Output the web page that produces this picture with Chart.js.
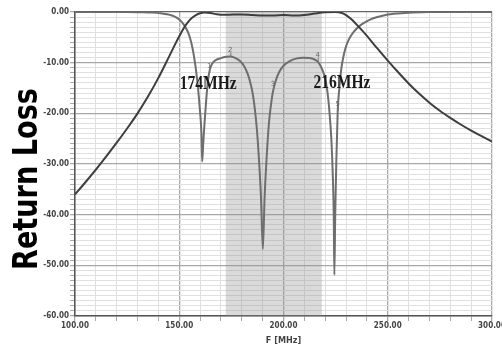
<!DOCTYPE html>
<html><head><meta charset="utf-8">
<script src="https://cdn.jsdelivr.net/npm/chart.js@4/dist/chart.umd.min.js"></script>
<style>html,body{margin:0;padding:0;background:#fff}#wrap{width:502px;height:347px}</style>
</head><body><div id="wrap"><canvas id="c" width="502" height="347"></canvas></div>
<script>
// ---- data ----
const s21Freq = [100,105,110,115,120,125,130,135,140,145,148,150,152,154,156,158,160,162,165,168,172,176,180,185,190,195,200,205,210,215,220,225,228,230,233,236,240,245,250,255,260,265,270,275,280,285,290,295,300];
const s21Db = [-36.0,-33.6,-31.1,-28.5,-25.8,-23.0,-20.0,-16.7,-13.0,-8.9,-6.4,-4.8,-3.3,-2.1,-1.2,-0.6,-0.25,-0.1,-0.2,-0.45,-0.55,-0.5,-0.5,-0.6,-0.7,-0.7,-0.6,-0.7,-0.6,-0.3,-0.05,0,-0.2,-0.6,-1.6,-2.9,-4.7,-7.2,-9.6,-11.9,-14.1,-16.1,-17.9,-19.5,-20.9,-22.2,-23.4,-24.5,-25.6];
const s11Freq = [100,125,132,137,141,144,146.5,148.5,150,152,154,155,156.3,157.4,158.2,159,160,160.6,161,161.5,162.2,163,163.8,164.6,165.8,167.5,170,172.5,174.5,176.5,179,181,183,184,185,186,187.2,188.3,189.2,190.1,190.9,191.8,193,194,195,196.5,198,200,203,206,209.5,212.5,214.5,216.4,218,219.6,221,222,223,223.7,224.1,224.4,224.8,225.3,226,226.8,227.8,229,230.5,232.5,235,238,241,245,249,255,262,270,300];
const s11Db = [0,0,-0.05,-0.12,-0.25,-0.45,-0.7,-1.05,-1.5,-2.4,-3.8,-4.9,-7.0,-9.6,-12.0,-15.0,-19.8,-23.6,-29.5,-26.0,-21.5,-17.0,-13.5,-11.5,-10.2,-9.5,-9.1,-8.85,-8.8,-9.0,-9.6,-10.6,-12.4,-13.8,-15.6,-18.3,-23.0,-29.5,-36.5,-46.8,-37,-29.5,-22,-18.3,-15.6,-13.3,-11.8,-10.6,-9.7,-9.2,-9.05,-9.1,-9.3,-9.8,-10.8,-12.6,-15.5,-19.5,-25.5,-33,-40,-51.9,-40,-30,-19.5,-15,-11,-8.3,-6.2,-4.6,-3.3,-2.3,-1.6,-1.0,-0.6,-0.3,-0.1,0,0];
const xTickValues = [100,150,200,250,300];
const yTickValues = [0,-10,-20,-30,-40,-50,-60];
const passBandMHz = [172.3, 218.4];
const bandLabels = ['174MHz','216MHz'];
const markerText = ['1','2','3','4','5'];
const markerFreq = [164.4,174.5,195.0,216.4,226.0];
const markerDb = [-12.0,-8.8,-15.6,-9.8,-19.5];
const yTitle = 'Return Loss';
const xTitle = 'F [MHz]';

// ---- annotation placement (not data) ----
const bandLabelPos = [{x:150.2,y:-15.2},{x:214.4,y:-15.0}];

const toXY = (xs, ys) => xs.map((x,i)=>({x:x, y:ys[i]}));

const narrow = "'Liberation Sans Narrow','DejaVu Sans Condensed','Liberation Sans',sans-serif";

const decor = {
  id:'decor',
  beforeDatasetsDraw(chart){
    const {ctx, chartArea:a, scales:{x}} = chart;
    const x0 = x.getPixelForValue(passBandMHz[0]), x1 = x.getPixelForValue(passBandMHz[1]);
    ctx.save();
    ctx.fillStyle = 'rgba(140,140,140,0.32)';
    ctx.fillRect(x0, a.top, x1-x0, a.bottom-a.top);
    ctx.restore();
  },
  afterDatasetsDraw(chart){
    const {ctx, scales:{x,y}} = chart;
    ctx.save();
    ctx.fillStyle = '#666'; ctx.strokeStyle = '#777'; ctx.lineWidth = 1;
    ctx.font = "7px 'DejaVu Sans',sans-serif";
    ctx.textAlign = 'center'; ctx.textBaseline = 'bottom';
    markerText.forEach((t,i)=>{
      const px = x.getPixelForValue(markerFreq[i]), py = y.getPixelForValue(markerDb[i]);
      ctx.beginPath(); ctx.moveTo(px+0.5, py-4); ctx.lineTo(px+0.5, py); ctx.stroke();
      ctx.fillText(t, px, py-3);
    });
    ctx.fillStyle = '#1a1a1a';
    ctx.font = "bold 19px 'Liberation Serif','DejaVu Serif',serif";
    ctx.textAlign = 'left'; ctx.textBaseline = 'alphabetic';
    bandLabels.forEach((t,i)=>{
      const px = x.getPixelForValue(bandLabelPos[i].x), py = y.getPixelForValue(bandLabelPos[i].y);
      const w = ctx.measureText(t).width;
      ctx.save(); ctx.translate(px, py); ctx.scale(57/w, 1); ctx.fillText(t, 0, 0); ctx.restore();
    });
    ctx.restore();
  },
  afterDraw(chart){
    const ctx = chart.ctx;
    ctx.save();
    ctx.font = "bold 34px " + narrow;
    const w = ctx.measureText(yTitle).width;
    ctx.translate(37, 179);
    ctx.rotate(-Math.PI/2);
    ctx.scale(182/w, 1);
    ctx.fillStyle = '#000';
    ctx.textAlign = 'center'; ctx.textBaseline = 'alphabetic';
    ctx.fillText(yTitle, 0, 0);
    ctx.restore();
  }
};

new Chart(document.getElementById('c'), {
  type:'line',
  data:{ datasets:[
    { label:'S21', data: toXY(s21Freq, s21Db), borderColor:'#3e3e3e', borderWidth:2, pointRadius:0, cubicInterpolationMode:'monotone', fill:false },
    { label:'S11', data: toXY(s11Freq, s11Db), borderColor:'#6e6e6e', borderWidth:2, pointRadius:0, cubicInterpolationMode:'monotone', fill:false }
  ]},
  options:{
    responsive:false, animation:false, events:[],
    layout:{ padding:{ left:0, right:10, top:12, bottom:0 } },
    plugins:{ legend:{display:false}, tooltip:{enabled:false} },
    scales:{
      x:{ type:'linear', min:100, max:300,
        border:{ display:true, color:'#555', width:1.5 },
        grid:{ color:(c)=> (c.tick && c.tick.value % 50 === 0) ? '#a8a8a8' : '#e0e0e0', lineWidth:(c)=> (c.tick && c.tick.value % 50 === 0) ? 1.3 : 1, tickLength:5, tickColor:'#aaa' },
        ticks:{ stepSize:10, autoSkip:false, maxRotation:0, padding:0, color:'#444',
          font:{ family:narrow, size:8, weight:'bold' },
          callback:(v)=> xTickValues.includes(v) ? v.toFixed(2) : '' },
        title:{ display:true, text:xTitle, color:'#444', padding:{top:0,bottom:1}, font:{ family:narrow, size:9, weight:'bold' } },
        afterFit:(s)=>{ s.height = 31; s.paddingLeft = 0; s.paddingRight = 0; }
      },
      y:{ type:'linear', min:-60, max:0,
        border:{ display:true, color:'#555', width:1.5 },
        grid:{ color:(c)=> { const v = c.tick ? c.tick.value : 1; return v === 0 ? '#666' : (v % 10 === 0 ? '#a8a8a8' : '#e0e0e0'); }, lineWidth:(c)=> (c.tick && c.tick.value % 10 === 0) ? 1.3 : 1, tickLength:5, tickColor:'#aaa' },
        ticks:{ stepSize:1, autoSkip:false, padding:1, color:'#444',
          font:{ family:narrow, size:8, weight:'bold' },
          callback:(v)=> yTickValues.includes(v) ? (v === 0 ? '0.00' : v.toFixed(2)) : '' },
        afterFit:(s)=>{ s.width = 75; s.paddingTop = 0; s.paddingBottom = 0; }
      }
    }
  },
  plugins:[decor]
});
</script></body></html>
